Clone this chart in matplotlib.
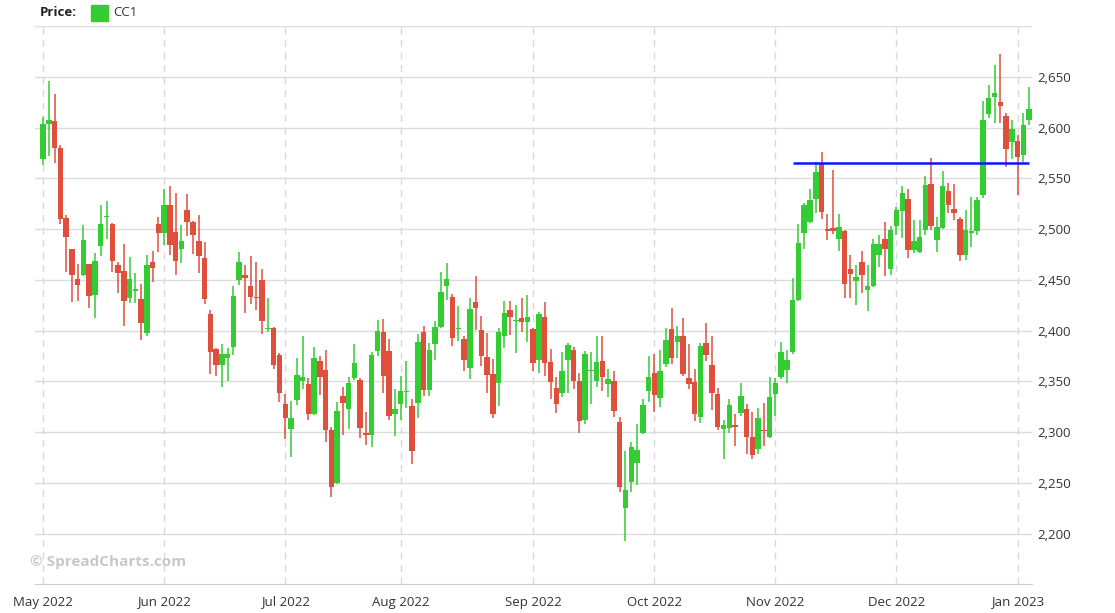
import numpy as np
import pandas as pd
import matplotlib
matplotlib.use('Agg')
import matplotlib.pyplot as plt
from matplotlib.patches import Rectangle
from matplotlib.ticker import FuncFormatter

plt.rcParams['font.family'] = ['Open Sans', 'DejaVu Sans']

# trading days (ICE US holidays removed)
holidays = ['2022-05-30', '2022-06-20', '2022-07-04', '2022-09-05',
            '2022-11-24', '2022-12-26', '2023-01-02']
dates = pd.bdate_range('2022-05-02', '2023-01-05')
dates = dates[~dates.isin(pd.to_datetime(holidays))]

opens = [2569, 2603, 2606, 2580, 2511, 2480, 2451, 2455, 2466, 2435,
         2483, 2512, 2505, 2465, 2459, 2432, 2439, 2431, 2398, 2468,
         2505, 2496, 2524, 2497, 2480, 2519, 2507, 2488, 2471, 2416,
         2382, 2366, 2373, 2384, 2450, 2455, 2444, 2433, 2450, 2402,
         2403, 2376, 2328, 2303, 2332, 2350, 2347, 2318, 2370, 2361,
         2302, 2250, 2336, 2323, 2353, 2351, 2299, 2297, 2380, 2399,
         2380, 2318, 2328, 2339.5, 2326, 2329, 2399, 2341, 2387, 2404,
         2444, 2433, 2401.5, 2392, 2363, 2428, 2401, 2374, 2357, 2348,
         2395, 2420, 2409.5, 2412, 2408, 2402, 2371, 2413, 2369, 2343,
         2339, 2371, 2381, 2350, 2312, 2360, 2350, 2370, 2347, 2350,
         2310, 2225, 2251, 2270, 2299, 2340, 2358, 2334, 2367, 2402,
         2389, 2395, 2353, 2349, 2315, 2388, 2366, 2338, 2303, 2304,
         2307, 2319, 2323, 2295, 2283, 2302, 2295, 2338, 2354, 2361,
         2379, 2430, 2496, 2507, 2530, 2564, 2500, 2501, 2490, 2498,
         2461, 2449, 2468, 2440, 2444, 2474, 2490, 2461, 2503, 2518,
         2530, 2479, 2477, 2499, 2544, 2489, 2501, 2537, 2520, 2510,
         2474, 2496, 2498, 2534, 2613, 2630, 2625, 2611, 2586, 2587,
         2573, 2607]
highs = [2610, 2646, 2633, 2583, 2514, 2480, 2466, 2504, 2466, 2476,
         2524, 2528, 2506, 2468, 2485, 2472, 2457, 2446, 2474, 2478,
         2512, 2539, 2542, 2536, 2504, 2535, 2508, 2514, 2487, 2420,
         2383, 2387, 2383, 2444, 2477, 2465, 2473, 2468, 2461, 2432,
         2404, 2378, 2338, 2331, 2373, 2395, 2353, 2384, 2375, 2381,
         2305, 2330, 2344, 2354, 2387, 2353, 2320, 2379, 2410, 2411,
         2392, 2342, 2355, 2370, 2333, 2397, 2405, 2388, 2409, 2458,
         2467, 2436, 2424, 2395, 2432, 2454, 2414, 2398, 2372, 2403,
         2429, 2429, 2425, 2432, 2435, 2403, 2418, 2428, 2382, 2354,
         2379, 2388, 2384, 2358, 2380, 2379, 2395, 2395, 2362, 2360,
         2315, 2281, 2290, 2308, 2333, 2375, 2377, 2381, 2403, 2422,
         2405, 2412, 2387, 2362, 2388, 2407, 2395, 2343, 2312, 2333,
         2318, 2348, 2328, 2320, 2324, 2329, 2354, 2353, 2389, 2381,
         2452, 2505, 2526, 2539, 2566, 2576, 2515, 2558, 2515, 2499,
         2474, 2465, 2478, 2465, 2490, 2494, 2507, 2503, 2522, 2542,
         2539, 2509, 2509, 2552, 2570, 2512, 2557, 2545, 2544, 2512,
         2519, 2532, 2532, 2626, 2642, 2662, 2672, 2614, 2607, 2593,
         2614, 2640]
lows = [2563, 2572, 2565, 2505, 2458, 2428, 2429, 2454, 2422, 2412,
        2473, 2490, 2458, 2437, 2405, 2427, 2427, 2391, 2395, 2448,
        2477, 2484, 2474, 2455, 2467, 2493, 2475, 2457, 2426, 2357,
        2355, 2344, 2350, 2376, 2445, 2417, 2426, 2420, 2397, 2399,
        2362, 2330, 2293, 2275, 2327, 2342, 2312, 2317, 2337, 2290,
        2236, 2249, 2297, 2303, 2351, 2294, 2287, 2285, 2375, 2339,
        2312, 2296, 2312, 2324, 2269, 2314, 2336, 2336, 2371, 2403,
        2430, 2385, 2390, 2360, 2352, 2401, 2365, 2339, 2314, 2326,
        2383, 2396, 2378, 2399, 2389, 2360, 2358, 2355, 2333, 2319,
        2335, 2339, 2342, 2299, 2308, 2328, 2344, 2340, 2335, 2315,
        2241, 2193, 2241, 2248, 2298, 2330, 2320, 2325, 2364, 2367,
        2373, 2355, 2342, 2311, 2309, 2370, 2322, 2302, 2274, 2299,
        2286, 2316, 2278, 2274, 2278, 2286, 2294, 2316, 2352, 2348,
        2377, 2429, 2480, 2506, 2516, 2510, 2489, 2495, 2478, 2432,
        2432, 2425, 2437, 2419, 2443, 2463, 2454, 2455, 2494, 2491,
        2471, 2476, 2476, 2494, 2499, 2477, 2500, 2516, 2509, 2469,
        2470, 2482, 2494, 2531, 2609, 2604, 2604, 2561, 2569, 2534,
        2566, 2602]
closes = [2603, 2607, 2580, 2510, 2492, 2455, 2445, 2489, 2434, 2469,
          2505, 2513, 2469, 2457, 2429, 2451, 2441, 2407, 2465, 2462,
          2496, 2524, 2484, 2469, 2488, 2507, 2494, 2473, 2431, 2379,
          2366, 2377, 2377, 2434, 2468, 2452, 2433, 2432, 2409, 2403,
          2366, 2339, 2314, 2314, 2356, 2354, 2318, 2373, 2354, 2302,
          2246, 2321, 2329, 2348, 2368, 2304, 2297, 2376, 2400, 2355,
          2316, 2323, 2340, 2340.5, 2281, 2389, 2341, 2381, 2404, 2438,
          2451, 2393, 2402, 2371, 2421, 2422, 2375, 2356, 2318, 2399,
          2417, 2413, 2410, 2408, 2413, 2368, 2416, 2368, 2349, 2328,
          2360, 2386, 2350, 2311, 2377, 2360.5, 2369, 2354, 2352, 2321,
          2246, 2243, 2285, 2282, 2327, 2354, 2337, 2360, 2391, 2373,
          2395, 2357, 2347, 2318, 2385, 2376, 2339, 2305, 2307, 2327,
          2305, 2336, 2295, 2277, 2314, 2301.5, 2335, 2348, 2379, 2371,
          2430, 2486, 2524, 2529, 2556, 2517, 2498, 2498, 2502, 2446,
          2456, 2453, 2455, 2444, 2485, 2485, 2480, 2499, 2519, 2536,
          2479, 2488, 2492, 2543, 2503, 2502, 2542, 2524, 2516, 2474,
          2499, 2498, 2529, 2607, 2629, 2634, 2621, 2579, 2599, 2571,
          2602, 2618]

level = 2565          # blue horizontal line
level_start = 130
level_end = 171

up_color = '#33cc33'
down_color = '#e04e3c'

o = np.array(opens, dtype=float)
h = np.array(highs, dtype=float)
l = np.array(lows, dtype=float)
c = np.array(closes, dtype=float)
x = np.arange(len(o))
colors = np.where(c >= o, up_color, down_color)

fig = plt.figure(figsize=(11.15, 6.13), dpi=100)
ax = fig.add_axes([35 / 1115, 1 - 584.4 / 613, (1032 - 35) / 1115, (584.4 - 26) / 613])

# month gridlines
month_idx = [i for i in range(len(dates)) if i == 0 or dates[i].month != dates[i - 1].month]
for i in month_idx:
    ax.axvline(i, color='#d9d9d9', lw=1.0, ls=(0, (5, 4)), zorder=0)
for v in range(2200, 2701, 50):
    ax.axhline(v, color='#dcdcdc', lw=1, zorder=0)

ax.vlines(x, l, h, colors=colors, lw=1.1, zorder=2)
body = np.maximum(np.abs(c - o), 1.0)
ax.bar(x, body, bottom=np.minimum(o, c), width=0.95, color=colors, zorder=3)

ax.hlines(level, level_start, level_end, color='#0a14ff', lw=1.8, zorder=4)

ax.set_xlim(-1.4, 171.5)
ax.set_ylim(2150, 2700)
ax.set_xticks(month_idx)
ax.set_xticklabels([dates[i].strftime('%b %Y') for i in month_idx])
ax.yaxis.tick_right()
ax.set_yticks(range(2200, 2651, 50))
ax.yaxis.set_major_formatter(FuncFormatter(lambda v, p: f'{int(v):,}'))
ax.tick_params(axis='y', length=0, pad=4, labelsize=9.5, labelcolor='#333333')
ax.tick_params(axis='x', length=0, pad=8, labelsize=9.5, labelcolor='#333333')
for s in ['top', 'right', 'left']:
    ax.spines[s].set_visible(False)
ax.spines['bottom'].set_color('#d0d0d0')

fig.text(40 / 1115, 1 - 13 / 613, 'Price:', fontsize=9.5, fontweight='bold',
         color='#222222', va='center', ha='left')
fig.patches.append(Rectangle((91 / 1115, 1 - 21 / 613), 17 / 1115, 16 / 613,
                             transform=fig.transFigure, color=up_color))
fig.text(113 / 1115, 1 - 13 / 613, 'CC1', fontsize=9.5, color='#333333',
         va='center', ha='left')
fig.text(30 / 1115, 1 - 562 / 613, '\u00a9 SpreadCharts.com', fontsize=11,
         fontweight='bold', color='#c8c8c8', va='center', ha='left')

fig.savefig('out.png', dpi=100)
